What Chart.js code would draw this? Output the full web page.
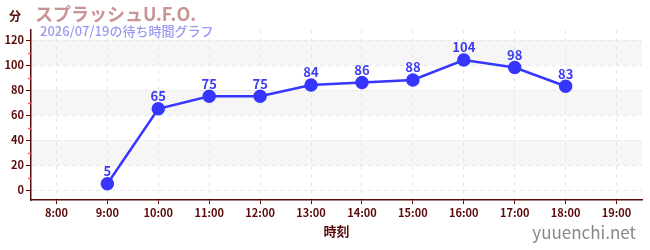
<!DOCTYPE html>
<html lang="ja">
<head>
  <meta charset="UTF-8" />
  <title>スプラッシュU.F.O.</title>
  <style>
    * { margin: 0; padding: 0; box-sizing: border-box; }
    body { background: #fff; width: 650px; height: 250px; overflow: hidden; }
    canvas { display: block; }
  </style>
</head>
<body>
  <canvas id="waitChart" width="650" height="250"></canvas>

  <script src="https://cdn.jsdelivr.net/npm/chart.js"></script>
  <script>
    // chart data
    const hours = ['8:00', '9:00', '10:00', '11:00', '12:00', '13:00', '14:00', '15:00', '16:00', '17:00', '18:00', '19:00'];
    const waitMinutes = [null, 5, 65, 75, 75, 84, 86, 88, 104, 98, 83, null];
    const yTicks = [0, 20, 40, 60, 80, 100, 120];
    const minorTicks = [10, 30, 50, 70, 90, 110];
    const shadedBands = [[20, 40], [60, 80], [100, 120]];

    const FONT = '"Noto Sans CJK JP", "Noto Sans", sans-serif';
    const MAROON = '#5a0a0a';

    // gray bands + red minor ticks
    const bandPlugin = {
      id: 'bands',
      beforeDraw(chart) {
        const { ctx, chartArea, scales: { y } } = chart;
        ctx.save();
        ctx.fillStyle = '#f6f6f6';
        shadedBands.forEach(([a, b]) => {
          const top = y.getPixelForValue(b), bot = y.getPixelForValue(a);
          ctx.fillRect(chartArea.left, top, chartArea.right - chartArea.left, bot - top);
        });
        ctx.restore();
      },
      afterDraw(chart) {
        const { ctx, chartArea, scales: { y } } = chart;
        ctx.save();
        ctx.strokeStyle = '#e85a5a';
        ctx.lineWidth = 1.5;
        minorTicks.forEach(v => {
          const py = Math.round(y.getPixelForValue(v)) + 0.5;
          ctx.beginPath();
          ctx.moveTo(chartArea.left - 3, py);
          ctx.lineTo(chartArea.left, py);
          ctx.stroke();
        });
        ctx.restore();
      }
    };

    // value labels above points
    const valueLabels = {
      id: 'valueLabels',
      afterDatasetsDraw(chart) {
        const { ctx } = chart;
        const meta = chart.getDatasetMeta(0);
        ctx.save();
        ctx.fillStyle = '#3b3bf0';
        ctx.font = 'bold 13px ' + FONT;
        ctx.textAlign = 'center';
        ctx.textBaseline = 'bottom';
        meta.data.forEach((pt, i) => {
          const v = waitMinutes[i];
          if (v == null) return;
          ctx.fillText(String(v), pt.x, pt.y - 6);
        });
        ctx.restore();
      }
    };

    // titles and captions
    const texts = {
      id: 'texts',
      afterDraw(chart) {
        const { ctx, chartArea } = chart;
        ctx.save();
        ctx.textBaseline = 'middle';
        ctx.fillStyle = MAROON;
        ctx.font = 'bold 12px ' + FONT;
        ctx.textAlign = 'left';
        ctx.fillText('分', 9, 16);

        ctx.fillStyle = '#c99494';
        ctx.font = 'bold 18px ' + FONT;
        ctx.fillText('スプラッシュU.F.O.', 35, 14);

        ctx.fillStyle = '#9a9af0';
        ctx.font = '500 13px ' + FONT;
        ctx.fillText('2026/07/19の待ち時間グラフ', 40, 31);

        ctx.fillStyle = MAROON;
        ctx.font = 'bold 13px ' + FONT;
        ctx.textAlign = 'center';
        ctx.fillText('時刻', (chartArea.left + chartArea.right) / 2, 231);

        ctx.fillStyle = '#888';
        ctx.font = '17px ' + FONT;
        ctx.textAlign = 'right';
        ctx.fillText('yuuenchi.net', 636, 233);
        ctx.restore();
      }
    };

    const ctx = document.getElementById('waitChart').getContext('2d');
    new Chart(ctx, {
      type: 'line',
      data: {
        labels: hours,
        datasets: [{
          data: waitMinutes,
          borderColor: '#3636ff',
          backgroundColor: '#3636ff',
          borderWidth: 2.5,
          pointRadius: 5.5,
          pointHoverRadius: 5.5,
          tension: 0
        }]
      },
      options: {
        responsive: false,
        animation: false,
        devicePixelRatio: 1,
        layout: { padding: { top: 30, right: 7, left: 0, bottom: 0 } },
        plugins: { legend: { display: false }, title: { display: false }, tooltip: { enabled: false } },
        scales: {
          x: {
            offset: true,
            grid: { color: '#e6e6e6', tickLength: 4, tickColor: MAROON, offset: false },
            border: { color: MAROON, width: 1.5, dash: [4, 4] },
            ticks: { color: MAROON, font: { family: FONT, size: 11, weight: 'bold' }, padding: 2, maxRotation: 0, autoSkip: false },
            afterFit(scale) { scale.height = 50; }
          },
          y: {
            min: -8,
            max: 128,
            grid: { color: '#e6e6e6', tickLength: 5, tickColor: MAROON },
            border: { color: MAROON, width: 1.5, dash: [4, 4] },
            ticks: { stepSize: 20, color: MAROON, font: { family: FONT, size: 11, weight: 'bold' }, padding: 2 },
            afterBuildTicks(scale) { scale.ticks = yTicks.map(v => ({ value: v })); },
            afterFit(scale) { scale.width = 31; }
          }
        }
      },
      plugins: [bandPlugin, valueLabels, texts]
    });
  </script>
</body>
</html>
